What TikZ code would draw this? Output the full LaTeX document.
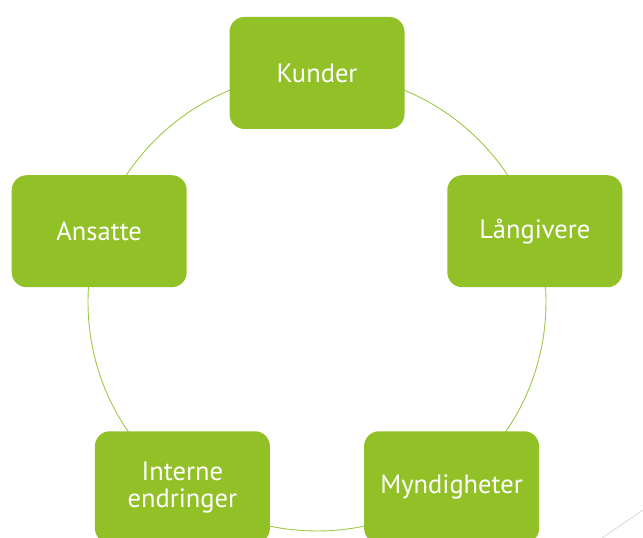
\documentclass[tikz,border=0pt]{standalone}
\usepackage{fontspec}
\setmainfont{PT Sans}
\usetikzlibrary{positioning}
\definecolor{leaf}{RGB}{146,193,39}
\definecolor{ringgreen}{RGB}{158,200,72}
\tikzset{
  actor/.style={fill=leaf, rounded corners=15pt, text=white, align=center,
                minimum width=175pt, minimum height=112pt, inner sep=0pt,
                font=\fontsize{26.5}{27}\selectfont},
  ringline/.style={draw=ringgreen, line width=0.9pt},
  corner/.style={draw=gray!30, line width=0.8pt},
}

\begin{document}
\begin{tikzpicture}
  \useasboundingbox (0,0) rectangle (643pt,538pt);
  \coordinate (mid) at (317pt,236pt);
  % ring behind the five boxes
  \draw[ringline] (mid) circle (229pt);
  \foreach \ang/\name/\txt in {90/kunder/Kunder, 18/langivere/Långivere,
      -54/myndigheter/Myndigheter, -126/interne/{Interne\\endringer},
      162/ansatte/Ansatte}
    \node[actor] (\name) at ([shift={(\ang:229pt)}]mid) {\txt};
  % thin slide line in the lower right corner
  \coordinate (cornera) at (602pt,0pt);
  \coordinate (cornerb) at (643pt,28pt);
  \draw[corner] (cornera) -- (cornerb);
\end{tikzpicture}
\end{document}
